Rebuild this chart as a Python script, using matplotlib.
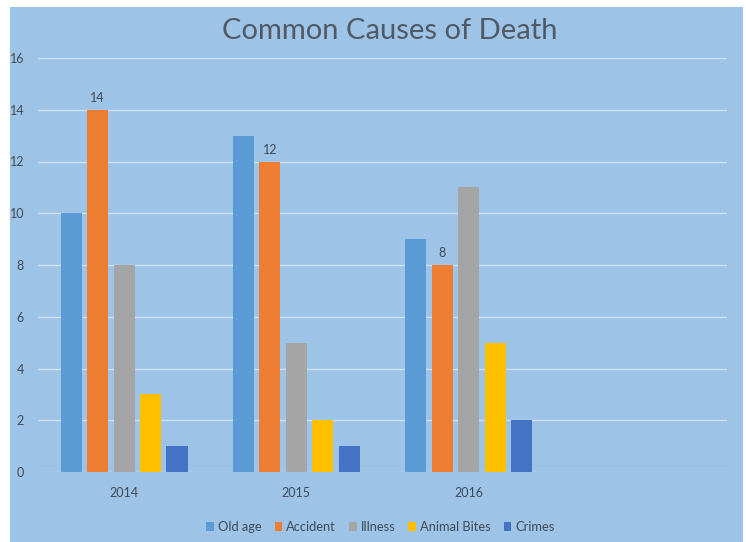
import matplotlib
matplotlib.use("Agg")
import matplotlib.pyplot as plt
from matplotlib.patches import Rectangle
import numpy as np

plt.rcParams['font.family'] = ['Lato', 'DejaVu Sans']

years = ["2014", "2015", "2016", ""]
causes = ["Old age", "Accident", "Illness", "Animal Bites", "Crimes"]
old_age = [10, 13, 9]
accident = [14, 12, 8]
illness = [8, 5, 11]
animal_bites = [3, 2, 5]
crimes = [1, 1, 2]
series = [old_age, accident, illness, animal_bites, crimes]
colors = ["#5B9BD5", "#ED7D31", "#A5A5A5", "#FFC000", "#4472C4"]
labelled = "Accident"

bg = "#9DC3E6"
txt = "#404A57"

fig = plt.figure(figsize=(7.46, 5.42), dpi=100, facecolor="white")
fig.patches.append(Rectangle((10 / 746, 0), 733 / 746, 1 - 7 / 542,
                             transform=fig.transFigure, facecolor=bg,
                             edgecolor="none", zorder=-10))

ax = fig.add_axes([38 / 746, 1 - 472 / 542, 689 / 746, 414 / 542])
ax.set_facecolor("none")

pitch = 0.1535
width = 0.122
x = np.arange(len(old_age))
for i, (name, vals, c) in enumerate(zip(causes, series, colors)):
    pos = x + (i - 2) * pitch
    bars = ax.bar(pos, vals, width=width, color=c, label=name, zorder=3)
    if name == labelled:
        for b, v in zip(bars, vals):
            ax.annotate(str(v), (b.get_x() + b.get_width() / 2, v),
                        xytext=(0, 4), textcoords="offset points",
                        ha="center", va="bottom", fontsize=9, color=txt)

ax.set_xlim(-0.5, len(years) - 0.5)
ax.set_ylim(0, 16)
ax.set_xticks(range(len(years)))
ax.set_xticklabels(years)
ax.set_yticks(range(0, 17, 2))
ax.tick_params(axis="both", length=0, labelsize=9, colors=txt)
ax.tick_params(axis="y", pad=10)
ax.tick_params(axis="x", pad=11)
ax.grid(axis="y", color="#CFE1F2", linewidth=1, zorder=0)
for s in ax.spines.values():
    s.set_visible(False)

fig.text(0.522, 1 - 31 / 542, "Common Causes of Death", ha="center",
         va="center", fontsize=21, color="#505A66")

fig.legend(loc="center", bbox_to_anchor=(0.51, 1 - 527 / 542), ncol=5,
           frameon=False, fontsize=9.3, handlelength=0.6, handleheight=0.6,
           handletextpad=0.3, columnspacing=1.0, labelcolor=txt)

fig.savefig("out.png", dpi=100, facecolor="white")
